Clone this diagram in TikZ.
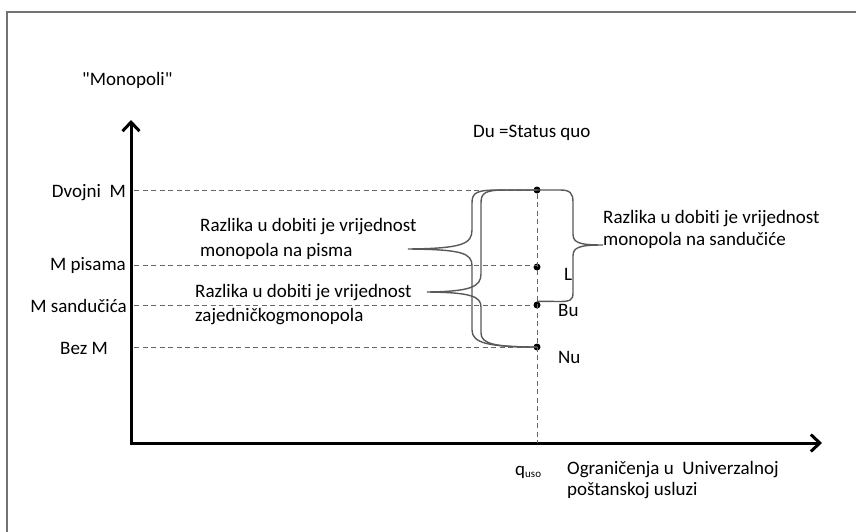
\documentclass[tikz,border=0pt]{standalone}
\usepackage{fontspec}
\setmainfont{Carlito}[Ligatures={TeX,NoCommon}]
\newfontfamily\plainq{Carlito}[Ligatures={TeXOff,NoCommon}]
\usetikzlibrary{arrows.meta}
\begin{document}
\begin{tikzpicture}[x=1pt,y=-1pt,
  lbl/.style={inner sep=0pt, font=\fontsize{19}{25}\selectfont},
  axisline/.style={line width=3pt, line join=miter,
    {Straight Barb[length=9pt,width=17pt,line width=3pt]}-{Straight Barb[length=9pt,width=17pt,line width=3pt]}},
  guide/.style={draw=black!60, line width=1pt, dash pattern=on 5pt off 3.5pt},
  bracestyle/.style={draw=black!65, line width=1.4pt},
  dotpt/.style={circle, fill=black, inner sep=0pt, minimum size=7pt},
  framestyle/.style={draw=black!55, line width=2.2pt}]
\useasboundingbox (0,0) rectangle (856,532);
% frame
\coordinate (fbl) at (7,533);
\coordinate (ftl) at (7,12);
\coordinate (ftr) at (857,12);
\draw[framestyle] (fbl) -- (ftl) -- (ftr);

% axes
\coordinate (o) at (131,443);
\coordinate (ytip) at (131,120);
\coordinate (xtip) at (822,443);
\draw[axisline] (ytip) -- (o) -- (xtip);

% levels on y axis
\coordinate (y1) at (134,190);
\coordinate (y2) at (134,265);
\coordinate (y3) at (134,305);
\coordinate (y4) at (134,347);
\coordinate (q) at (537,443);

% points
\node[dotpt] (d1) at (537,190) {};
\node[dotpt] (d2) at (537,267) {};
\node[dotpt] (d3) at (537,305) {};
\node[dotpt] (d4) at (537,347) {};

% guide lines
\draw[guide] (y1) -- (d1);
\draw[guide] (y2) -- (y2 -| d2);
\draw[guide] (y3) -- (d3);
\draw[guide] (y4) -- (d4);
\draw[guide] (d1) -- (q);

% brace tips
\coordinate (tipA) at (408,249);
\coordinate (tipB) at (427,292);
\coordinate (tipC) at (603,245);

% brace A (monopola na pisma)
\draw[bracestyle] (d1.center) -- (500,190)
  .. controls (477,190) and (472,192) .. (472,203)
  -- (472,230) .. controls (472,244) and (462,248.5) .. (tipA)
  .. controls (462,249.5) and (472,253) .. (472,266)
  -- (472,330) .. controls (472,343) and (488,347) .. (d4.center);
% brace B (zajednickog monopola)
\draw[bracestyle] (d1.center) -- (505,190)
  .. controls (485,190) and (481,193) .. (481,203)
  -- (481,274) .. controls (481,287) and (470,291.5) .. (tipB)
  .. controls (470,292.5) and (481,296) .. (481,307)
  -- (481,333) .. controls (481,344) and (495,347) .. (d4.center);
% brace C (monopola na sanducice)
\draw[bracestyle] (d1.center) -- (560,190)
  .. controls (570,190) and (573,193) .. (573,202)
  -- (573,234) .. controls (573,243) and (580,245) .. (tipC)
  .. controls (580,245) and (573,247) .. (573,256)
  -- (573,293) .. controls (573,300) and (570,301.5) .. (560,301.5)
  -- (d3.north);

% axis labels
\node[lbl, anchor=base west] (ylab) at (82,86) {{\plainq "}Monopoli{\plainq "}};
\node[lbl, anchor=base east] (lDv) at (126,197) {Dvojni\ \ M};
\node[lbl, anchor=base east] (lPi) at (126,270) {M pisama};
\node[lbl, anchor=base east] (lSa) at (127,312) {M sandučića};
\node[lbl, anchor=base west] (lBe) at (60,354) {Bez M};

% status quo
\node[lbl, anchor=base west] (du) at (473,137) {Du =Status quo};

% point labels
\node[lbl, anchor=base west] (lL) at (564,280) {L};
\node[lbl, anchor=base west] (lBu) at (558,316) {Bu};
\node[lbl, anchor=base west] (lNu) at (558,363) {Nu};

% explanations
\node[lbl, anchor=west, align=left] (tA) at (200,239)
  {Razlika u dobiti je vrijednost\\monopola na pisma};
\node[lbl, anchor=west, align=left, font=\fontsize{19}{24}\selectfont] (tB) at (195,305)
  {Razlika u dobiti je vrijednost\\zajedničkogmonopola};
\node[lbl, anchor=west, align=left, font=\fontsize{19}{22}\selectfont] (tC) at (603,229)
  {Razlika u dobiti je vrijednost\\monopola na sandučiće};

% x axis labels
\node[lbl, anchor=base west] (lq) at (515,475)
  {q\raisebox{-2pt}{\fontsize{11}{11}\selectfont uso}};
\node[lbl, anchor=west, align=left, font=\fontsize{19}{21}\selectfont] (xlab) at (567,480)
  {Ograničenja u\ \ Univerzalnoj\\poštanskoj usluzi};
\end{tikzpicture}
\end{document}
